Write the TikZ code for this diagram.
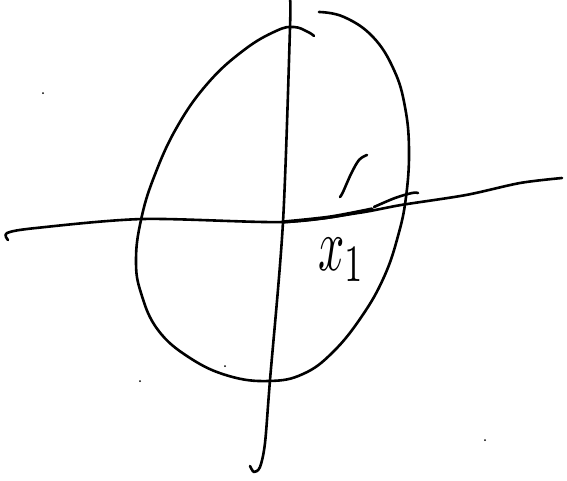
\documentclass[tikz,border=0pt]{standalone}
\usepackage{amsmath}
\usepackage{graphicx}
\usetikzlibrary{calc}
\begin{document}
\begin{tikzpicture}[x=1pt,y=-1pt,
    pen/.style={line width=2.6pt,line cap=round,line join=round},
    speck/.style={fill=black,circle,inner sep=0pt,minimum size=2pt}]
  \useasboundingbox (0,0) rectangle (567,480);
  % egg curve, open at the top
  \draw[pen] plot[smooth,tension=0.7] coordinates {(319,12) (344,17) (373,37) (394,70) (405,107) (409,150)
    (406,197) (398,236) (384,277) (362,316) (333,352) (303,374) (269,381) (229,376) (190,358)
    (158,330) (141,293) (136,260) (141,220) (154,177) (177,127) (208,83) (244,50) (276,31)
    (294,27) (308,32) (314,36)};
  % vertical axis
  \draw[pen] plot[smooth,tension=0.5] coordinates {(290,0) (290,28) (283,222) (270,380) (265,443) (260,467) (254,472) (250,466)};
  % horizontal axis
  \draw[pen] plot[smooth,tension=0.5] coordinates {(8,240) (7,233) (36,228) (143,219) (283,222) (358,213)
    (401,205) (466,195) (520,183) (562,178)};
  \draw[pen,line width=3.4pt] plot[smooth,tension=0.5] coordinates {(283,222) (330,217) (372,209)};
  % small cross stroke at the crossing
  \draw[pen] plot[smooth,tension=0.6] coordinates {(374,207) (395,198) (412,193) (418,193)};
  % the little mark above
  \draw[pen] plot[smooth,tension=0.6] coordinates {(367,155) (359,160) (351,174) (343,192) (340,197)};
  % label
  \node (lbl) at (342,260) {\scalebox{4.6}[7.5]{$x_1$}};
  % specks
  \node[speck] (s1) at (43,93) {};
  \node[speck] (s2) at (140,381) {};
  \node[speck] (s3) at (225,366) {};
  \node[speck] (s4) at (485,440) {};
\end{tikzpicture}
\end{document}
